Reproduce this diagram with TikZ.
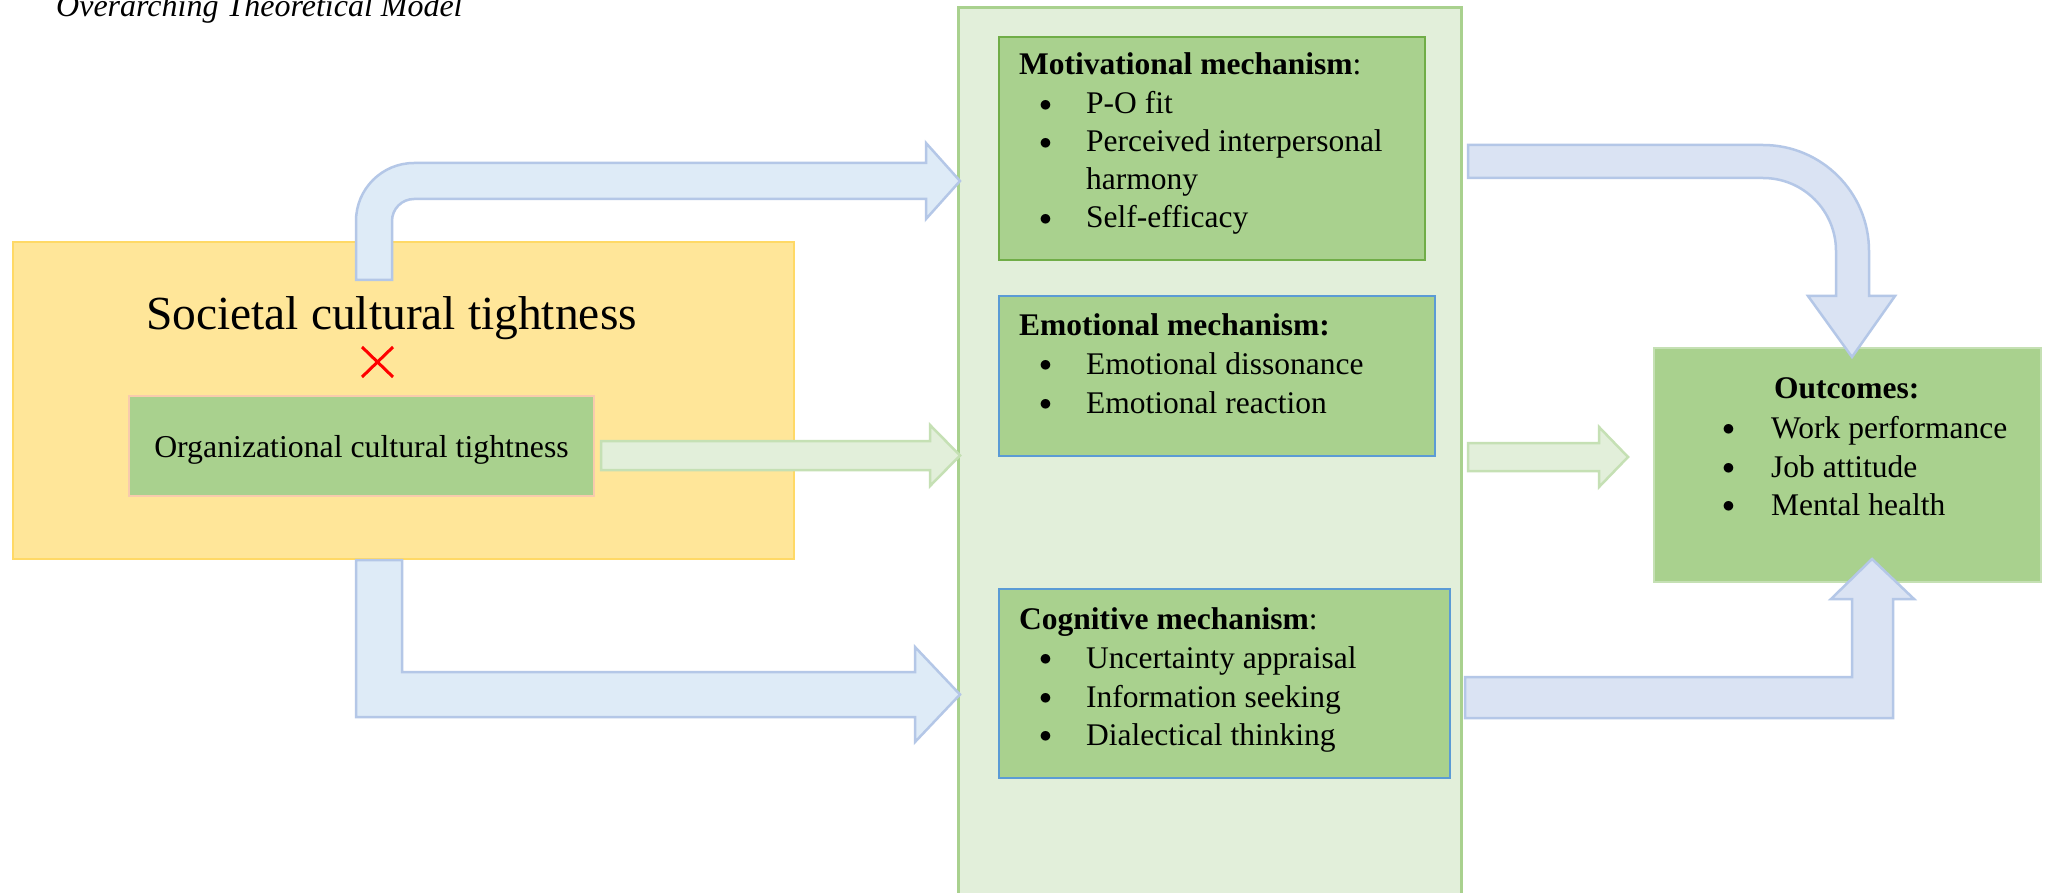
\documentclass[tikz,border=0pt]{standalone}
\usepackage{fontspec}
\setmainfont{Liberation Serif}
\usetikzlibrary{calc}
\definecolor{yfill}{HTML}{FFE699}
\definecolor{ydraw}{HTML}{FFD966}
\definecolor{gfill}{HTML}{A9D18E}
\definecolor{lgfill}{HTML}{E2EFDA}
\definecolor{lgdraw}{HTML}{C5E0B4}
\definecolor{cdraw}{HTML}{A9D18E}
\definecolor{mdraw}{HTML}{70AD47}
\definecolor{bdraw}{HTML}{5B9BD5}
\definecolor{afill}{HTML}{DEEBF7}
\definecolor{afillb}{HTML}{DAE3F3}
\definecolor{adraw}{HTML}{B4C7E7}
\definecolor{pdraw}{HTML}{F8CBAD}
\tikzset{
  boxnode/.style={anchor=north west, inner sep=0pt, outer sep=0pt, line width=1.5pt},
  txt/.style={anchor=base west, inner sep=0pt, font=\fontsize{31.5}{38}\selectfont},
  bul/.style={anchor=base, inner sep=0pt, font=\fontsize{28.3}{34}\selectfont, yshift=2.4pt},
  bluearrow/.style={fill=afill, draw=adraw, line width=2.5pt, line join=miter},
  bluearrowb/.style={fill=afillb, draw=adraw, line width=2.5pt, line join=miter},
  greenarrow/.style={fill=lgfill, draw=lgdraw, line width=2.5pt, line join=miter},
}
\begin{document}
\begin{tikzpicture}[x=1pt,y=-1pt]
\useasboundingbox (0,0) rectangle (2045,893);
\clip (0,0) rectangle (2045,893);
\fill[white] (0,0) rectangle (2045,893);

% title
\node[txt, font=\fontsize{32}{38}\selectfont\itshape] (title) at (56,17) {Overarching Theoretical Model};

% left yellow box
\node[boxnode, fill=yfill, draw=ydraw, line width=2.5pt, minimum width=781pt, minimum height=317pt] (soc) at (13,242) {};
\node[anchor=base, inner sep=0pt, font=\fontsize{47.5}{56}\selectfont] (soctxt) at (391.5,329) {Societal cultural tightness};
\coordinate (xc) at (377.5,362);
\draw[red, line width=3pt] ($(xc)+(-15.5,-15)$) -- ($(xc)+(15.5,15)$);
\draw[red, line width=3pt] ($(xc)+(15.5,-15)$) -- ($(xc)+(-15.5,15)$);
\node[boxnode, fill=gfill, draw=pdraw, minimum width=465pt, minimum height=100pt] (org) at (129,396) {};
\node[anchor=base, inner sep=0pt, font=\fontsize{31.8}{38}\selectfont] (orgtxt) at (361.5,457) {Organizational cultural tightness};

% centre column
\node[boxnode, fill=lgfill, draw=cdraw, line width=3pt, minimum width=503pt, minimum height=960pt] (mech) at (958,8) {};

% motivational
\node[boxnode, fill=gfill, draw=mdraw, minimum width=426pt, minimum height=223pt] (mot) at (999,37) {};
\node[txt] (mott) at (1019,75) {\textbf{Motivational mechanism}:};
\node[bul] (motb1) at (1045.5,114) {$\bullet$};
\node[txt] (moti1) at (1086,114) {P-O fit};
\node[bul] (motb2) at (1045.5,152) {$\bullet$};
\node[txt] (moti2) at (1086,152) {Perceived interpersonal};
\node[txt] (moti2b) at (1086,190) {harmony};
\node[bul] (motb3) at (1045.5,228) {$\bullet$};
\node[txt] (moti3) at (1086,228) {Self-efficacy};

% emotional
\node[boxnode, fill=gfill, draw=bdraw, minimum width=436pt, minimum height=160pt] (emo) at (999,296) {};
\node[txt] (emot) at (1019,335) {\textbf{Emotional mechanism:}};
\node[bul] (emob1) at (1045.5,374) {$\bullet$};
\node[txt] (emoi1) at (1086,374) {Emotional dissonance};
\node[bul] (emob2) at (1045.5,413) {$\bullet$};
\node[txt] (emoi2) at (1086,413) {Emotional reaction};

% cognitive
\node[boxnode, fill=gfill, draw=bdraw, minimum width=451pt, minimum height=189pt] (cog) at (999,589) {};
\node[txt] (cogt) at (1019,629) {\textbf{Cognitive mechanism}:};
\node[bul] (cogb1) at (1045.5,668) {$\bullet$};
\node[txt] (cogi1) at (1086,668) {Uncertainty appraisal};
\node[bul] (cogb2) at (1045.5,707) {$\bullet$};
\node[txt] (cogi2) at (1086,707) {Information seeking};
\node[bul] (cogb3) at (1045.5,745) {$\bullet$};
\node[txt] (cogi3) at (1086,745) {Dialectical thinking};

% outcomes
\node[boxnode, fill=gfill, draw=lgdraw, minimum width=387pt, minimum height=234pt] (out) at (1654,348) {};
\node[txt] (outt) at (1774,398) {\textbf{Outcomes:}};
\node[bul] (outb1) at (1728.6,438) {$\bullet$};
\node[txt] (outi1) at (1771,438) {Work performance};
\node[bul] (outb2) at (1728.6,477) {$\bullet$};
\node[txt] (outi2) at (1771,477) {Job attitude};
\node[bul] (outb3) at (1728.6,515) {$\bullet$};
\node[txt] (outi3) at (1771,515) {Mental health};

% arrows
\draw[bluearrow] (356,280) -- (356,221) .. controls (356,188.97) and (381.97,163) .. (414,163)
  -- (926,163) -- (926,143) -- (960,181) -- (926,219) -- (926,199) -- (414,199)
  .. controls (401.85,199) and (392,208.85) .. (392,221) -- (392,280) -- cycle;
\draw[bluearrow] (356,560) -- (356,717) -- (915,717) -- (915,742) -- (960,694.5)
  -- (915,647) -- (915,672) -- (402,672) -- (402,560) -- cycle;
\draw[greenarrow] (601,441) -- (930,441) -- (930,425) -- (960,455.5) -- (930,486)
  -- (930,470) -- (601,470) -- cycle;
\draw[greenarrow] (1468,443) -- (1599,443) -- (1599,427) -- (1628,457) -- (1599,487)
  -- (1599,471) -- (1468,471) -- cycle;
\draw[bluearrowb] (1468,145) -- (1763,145) .. controls (1821.54,145) and (1869,192.46) .. (1869,251)
  -- (1869,296) -- (1895,296) -- (1852,357) -- (1808,296) -- (1836,296) -- (1836,251)
  .. controls (1836,210.68) and (1803.32,178) .. (1763,178) -- (1468,178) -- cycle;
\draw[bluearrowb] (1465,677) -- (1852,677) -- (1852,599) -- (1831,599) -- (1872,559)
  -- (1914,599) -- (1893,599) -- (1893,718) -- (1465,718) -- cycle;
\end{tikzpicture}
\end{document}
